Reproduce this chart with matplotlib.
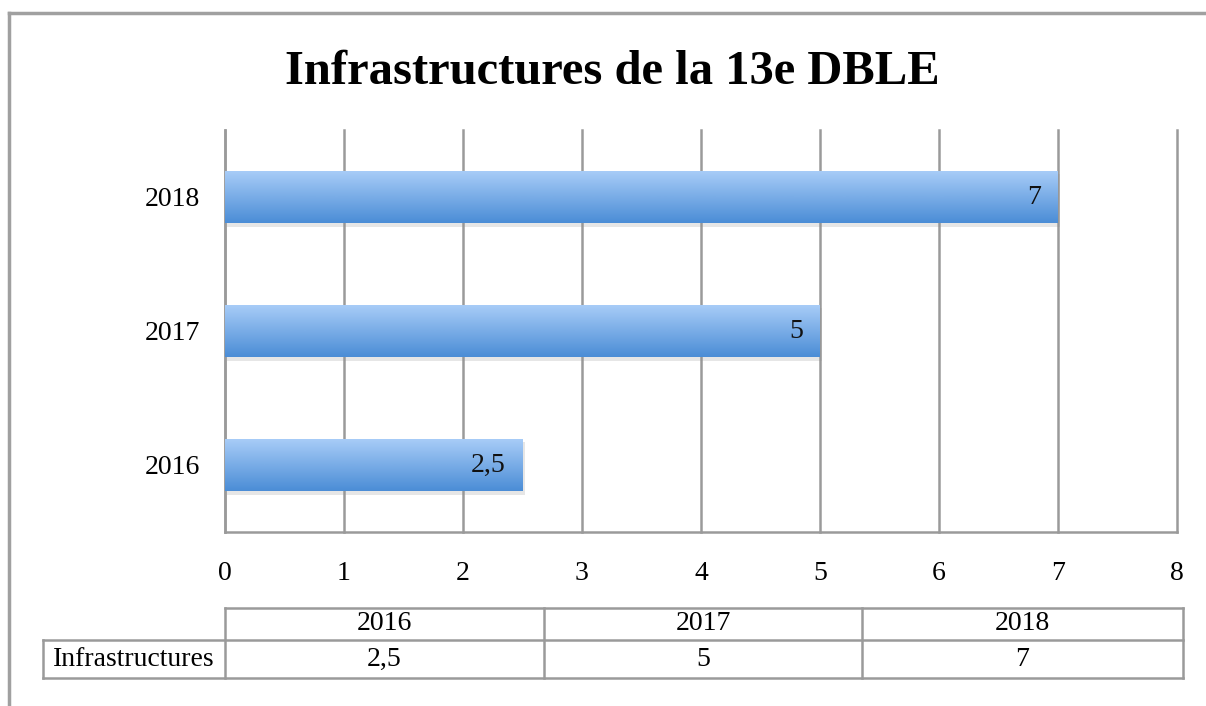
import matplotlib.pyplot as plt
import matplotlib.patheffects as pe
from matplotlib.lines import Line2D
from matplotlib.colors import LinearSegmentedColormap
import numpy as np

years = ['2016', '2017', '2018']
values = [2.5, 5, 7]
value_labels = ['2,5', '5', '7']
series_name = 'Infrastructures'
title = 'Infrastructures de la 13e DBLE'

W, H = 1206, 706
grid_col = '#9a9a9a'
serif = ['Liberation Serif', 'DejaVu Serif']
fs = 20

fig = plt.figure(figsize=(W / 100, H / 100), dpi=100)
ax = fig.add_axes([225 / W, (H - 532) / H, 952 / W, 402 / H])

y = np.arange(len(years))
bars = ax.barh(y, values, height=0.39, color='#6fa6e6', zorder=3,
               path_effects=[pe.SimplePatchShadow(offset=(1.5, -2.5), shadow_rgbFace='#909090', alpha=0.22),
                             pe.Normal()])

# vertical gradient on each bar
cmap = LinearSegmentedColormap.from_list('bar', ['#4b8dd6', '#a9cdf8'])
grad = np.linspace(0, 1, 100).reshape(-1, 1)
for b in bars:
    x0, y0, w, h = b.get_x(), b.get_y(), b.get_width(), b.get_height()
    im = ax.imshow(grad, cmap=cmap, origin='lower', aspect='auto',
                   extent=(x0, x0 + w, y0, y0 + h), zorder=4)
    im.set_clip_path(b)

for yi, v, lab in zip(y, values, value_labels):
    ax.text(v - 0.14, yi, lab, ha='right', va='center', fontsize=fs,
            family=serif, color='#111111', zorder=5)

ax.set_xlim(0, 8)
ax.set_ylim(-0.5, 2.5)
ax.set_xticks(range(9))
ax.set_yticks(y)
ax.set_yticklabels(years)
ax.tick_params(length=0, labelsize=fs)
ax.tick_params(axis='y', pad=18)
ax.tick_params(axis='x', pad=21)
for t in ax.get_xticklabels() + ax.get_yticklabels():
    t.set_family(serif)
ax.xaxis.grid(True, color=grid_col, lw=1.8, zorder=1)
for gl in ax.get_xgridlines():
    gl.set_clip_on(False)
for s in ['top', 'right']:
    ax.spines[s].set_visible(False)
for s in ['left', 'bottom']:
    ax.spines[s].set_color(grid_col)
    ax.spines[s].set_linewidth(1.8)

fig.text(612 / W, 1 - 72 / H, title, ha='center', va='center', fontsize=35,
         fontweight='bold', family=serif)

# outer frame
fig.add_artist(Line2D([9 / W, 1], [1 - 13 / H, 1 - 13 / H], color='#a0a0a0', lw=2.5))
fig.add_artist(Line2D([9 / W, 9 / W], [0, 1 - 13 / H], color='#a0a0a0', lw=2.5))

# data table under the chart
col_edges = [225, 544, 862, 1183]
row_top, row_mid, row_bot = 608, 640, 678
label_left = 43


def px(x, yy):
    return x / W, 1 - yy / H


def hline(x0, x1, yy):
    (a, b), (c, d) = px(x0, yy), px(x1, yy)
    fig.add_artist(Line2D([a, c], [b, d], color=grid_col, lw=1.8))


def vline(x, y0, y1):
    (a, b), (c, d) = px(x, y0), px(x, y1)
    fig.add_artist(Line2D([a, c], [b, d], color=grid_col, lw=1.8))


hline(col_edges[0], col_edges[-1], row_top)
hline(label_left, col_edges[-1], row_mid)
hline(label_left, col_edges[-1], row_bot)
vline(label_left, row_mid, row_bot)
for x in col_edges:
    vline(x, row_top, row_bot)

fig.text(*px((label_left + col_edges[0]) / 2, (row_mid + row_bot) / 2), series_name,
         ha='center', va='center', fontsize=fs, family=serif)
for i, (yr, lab) in enumerate(zip(years, value_labels)):
    cx = (col_edges[i] + col_edges[i + 1]) / 2
    fig.text(*px(cx, (row_top + row_mid) / 2), yr, ha='center', va='center',
             fontsize=fs, family=serif)
    fig.text(*px(cx, (row_mid + row_bot) / 2), lab, ha='center', va='center',
             fontsize=fs, family=serif)

fig.savefig('out.png', dpi=100)
